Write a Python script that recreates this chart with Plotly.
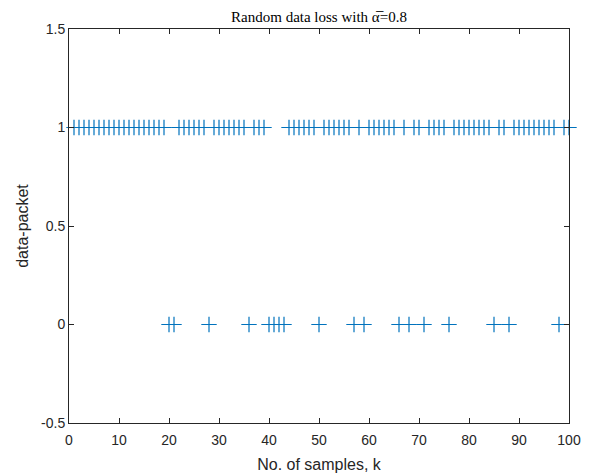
import plotly.graph_objects as go

# sample index k = 1..100
samples = list(range(1, 101))
# data-packet received (1) or lost (0)
packets = [
    1, 1, 1, 1, 1, 1, 1, 1, 1, 1,   # 1-10
    1, 1, 1, 1, 1, 1, 1, 1, 1, 0,   # 11-20
    0, 1, 1, 1, 1, 1, 1, 0, 1, 1,   # 21-30
    1, 1, 1, 1, 1, 0, 1, 1, 1, 0,   # 31-40
    0, 0, 0, 1, 1, 1, 1, 1, 1, 0,   # 41-50
    1, 1, 1, 1, 1, 1, 0, 1, 0, 1,   # 51-60
    1, 1, 1, 1, 1, 0, 1, 0, 1, 1,   # 61-70
    0, 1, 1, 1, 1, 0, 1, 1, 1, 1,   # 71-80
    1, 1, 1, 1, 0, 1, 1, 0, 1, 1,   # 81-90
    1, 1, 1, 1, 1, 1, 1, 0, 1, 1,   # 91-100
]
x_ticks = [0, 10, 20, 30, 40, 50, 60, 70, 80, 90, 100]
y_ticks = [-0.5, 0, 0.5, 1, 1.5]
y_tick_labels = ["-0.5", "0", "0.5", "1", "1.5"]

fig = go.Figure()
fig.add_trace(go.Scatter(
    x=samples, y=packets, mode="markers",
    marker=dict(symbol="cross-thin", size=11,
                line=dict(color="#0072BD", width=1.2), color="#0072BD"),
    showlegend=False, cliponaxis=False,
))

axis_common = dict(
    showgrid=False, zeroline=False, showline=True, mirror="ticks",
    linecolor="#262626", linewidth=1, ticks="inside", ticklen=5,
    tickcolor="#262626", tickwidth=1, automargin=False,
    tickfont=dict(family="Liberation Sans, Arial, sans-serif", size=14, color="#262626"),
)

fig.update_layout(
    width=585, height=468,
    margin=dict(l=61, r=24, t=21, b=53),
    paper_bgcolor="white", plot_bgcolor="white",
    title=dict(text="Random data loss with α\u0305=0.8", x=0.5, xanchor="center",
               xref="paper", y=1, yref="paper", yanchor="bottom", pad=dict(b=7),
               font=dict(family="Liberation Serif, Times New Roman, serif", size=15, color="#000000")),
    xaxis=dict(range=[0, 100], tickvals=x_ticks, ticklabelstandoff=4,
               title=dict(text="No. of samples, k", standoff=12,
                          font=dict(family="Liberation Sans, Arial, sans-serif", size=16, color="#262626")),
               **axis_common),
    yaxis=dict(range=[-0.5, 1.5], tickvals=y_ticks, ticktext=y_tick_labels,
               title=dict(text="data-packet", standoff=8,
                          font=dict(family="Liberation Sans, Arial, sans-serif", size=16, color="#262626")),
               **axis_common),
)

fig.write_html("out.html")
